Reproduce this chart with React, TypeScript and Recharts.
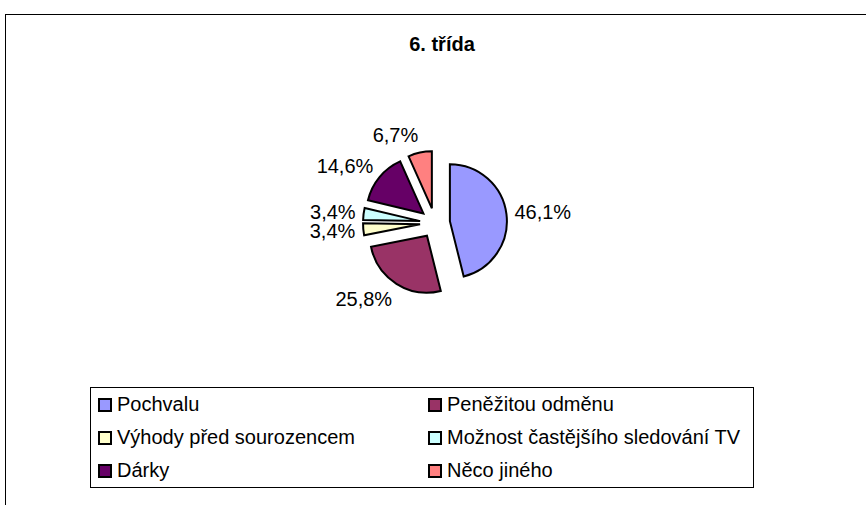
import { PieChart, Pie, Sector, Legend } from 'recharts';

const categories = [
  'Pochvalu',
  'Peněžitou odměnu',
  'Výhody před sourozencem',
  'Možnost častějšího sledování TV',
  'Dárky',
  'Něco jiného'
];
const shares = [46.1, 25.8, 3.4, 3.4, 14.6, 6.7];
const colors = ['#9999FF', '#993366', '#FFFFCC', '#CCFFFF', '#660066', '#FF8080'];
const title = '6. třída';

const data = categories.map((name, i) => ({ name, value: shares[i] }));

const FONT = '"Liberation Sans", Arial, sans-serif';
const RAD = Math.PI / 180;
const EXPLODE = 15;

// exploded slice + its label, drawn through the label hook
const renderSlice = (props: any) => {
  const { cx, cy, midAngle, outerRadius, startAngle, endAngle, index } = props;
  const cos = Math.cos(midAngle * RAD);
  const sin = Math.sin(midAngle * RAD);
  const ax = cx + EXPLODE * cos;
  const ay = cy - EXPLODE * sin;
  const lr = outerRadius + 8;
  const lx = ax + lr * cos;
  const ly = ay - lr * sin - sin * 10;
  return (
    <g key={`slice-${index}`}>
      <Sector
        cx={ax}
        cy={ay}
        innerRadius={0}
        outerRadius={outerRadius}
        startAngle={startAngle}
        endAngle={endAngle}
        fill={colors[index]}
        stroke="#000"
        strokeWidth={2}
      />
      <text
        x={lx}
        y={ly}
        textAnchor={cos >= 0 ? 'start' : 'end'}
        dominantBaseline="central"
        fontFamily={FONT}
        fontSize={20}
        fill="#000">
        {shares[index].toFixed(1).replace('.', ',') + '%'}
      </text>
    </g>
  );
};

const LegendBox = () => (
  <div
    style={{
      position: 'relative',
      width: 664,
      height: 101,
      boxSizing: 'border-box',
      border: '1px solid #000',
      background: '#fff',
      fontFamily: FONT,
      fontSize: 20,
      color: '#000'
    }}>
    {categories.map((name, i) => (
      <div
        key={name}
        style={{
          position: 'absolute',
          left: i % 2 === 0 ? 7 : 337,
          top: Math.floor(i / 2) * 33,
          height: 33,
          display: 'flex',
          alignItems: 'center',
          whiteSpace: 'nowrap'
        }}>
        <span
          style={{
            display: 'inline-block',
            width: 14,
            height: 14,
            boxSizing: 'border-box',
            border: '2px solid #000',
            background: colors[i],
            marginRight: 5
          }}
        />
        {name}
      </div>
    ))}
  </div>
);

export default function App() {
  return (
    <div
      style={{
        position: 'absolute',
        left: 0,
        top: 0,
        width: 866,
        height: 505,
        overflow: 'hidden',
        background: '#fff'
      }}>
      <div
        style={{
          position: 'absolute',
          left: 5,
          top: 14,
          width: 1000,
          height: 1000,
          border: '1px solid #000'
        }}
      />
      <PieChart width={866} height={505} margin={{ top: 0, right: 0, bottom: 0, left: 0 }}>
        <text
          x={442}
          y={51}
          textAnchor="middle"
          fontFamily={FONT}
          fontSize={20}
          fontWeight="bold"
          fill="#000">
          {title}
        </text>
        <Pie
          data={data}
          dataKey="value"
          nameKey="name"
          cx={435}
          cy={223}
          innerRadius={0}
          outerRadius={57}
          startAngle={90}
          endAngle={-270}
          fill="transparent"
          stroke="none"
          label={renderSlice}
          labelLine={false}
          isAnimationActive={false}
        />
        <Legend
          content={() => <LegendBox />}
          wrapperStyle={{ left: 90, top: 387, width: 664, height: 101 }}
        />
      </PieChart>
    </div>
  );
}
